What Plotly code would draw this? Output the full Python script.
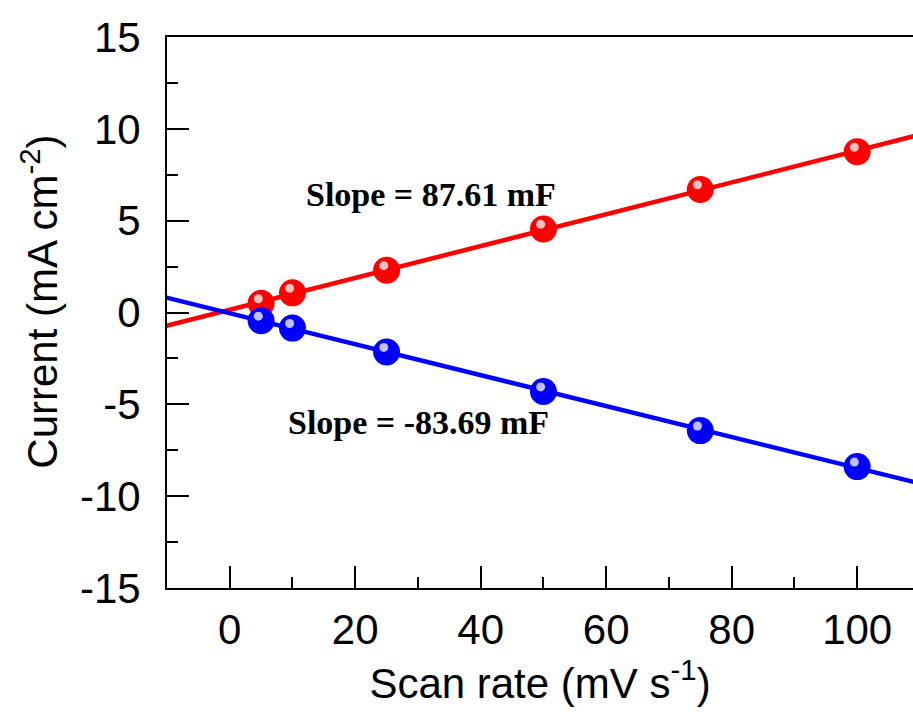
import numpy as np
import plotly.graph_objects as go

# Data
scan_rate = [5, 10, 25, 50, 75, 100]
anodic_current = [0.50, 1.07, 2.30, 4.55, 6.70, 8.75]
cathodic_current = [-0.45, -0.85, -2.15, -4.30, -6.43, -8.39]
slope_labels = ["Slope = 87.61 mF", "Slope = -83.69 mF"]
x_tick_vals = [0, 20, 40, 60, 80, 100]
x_tick_text = ["0", "20", "40", "60", "80", "100"]
y_tick_vals = [-15, -10, -5, 0, 5, 10, 15]
y_tick_text = ["-15", "-10", "-5", "0", "5", "10", "15"]

X_RANGE = [-10, 108.9]
Y_RANGE = [-15, 15]

RED = "rgb(255,0,0)"
BLUE = "rgb(0,0,255)"

fig = go.Figure()

def add_series(xs, ys, color, hl_color):
    xs = np.array(xs, dtype=float)
    ys = np.array(ys, dtype=float)
    k, b = np.polyfit(xs, ys, 1)
    xl = np.array([X_RANGE[0] - 10, X_RANGE[1] + 10])
    fig.add_trace(go.Scatter(x=xl, y=k * xl + b, mode="lines",
                             line=dict(color=color, width=4.5),
                             showlegend=False, hoverinfo="skip"))
    fig.add_trace(go.Scatter(x=xs, y=ys, mode="markers",
                             marker=dict(size=27, color=color, line=dict(width=0)),
                             showlegend=False))
    # specular highlight (small offset up-left)
    fig.add_trace(go.Scatter(x=xs - 0.45, y=ys + 0.25, mode="markers",
                             marker=dict(size=9, color=hl_color, line=dict(width=0)),
                             showlegend=False, hoverinfo="skip"))

add_series(scan_rate, anodic_current, RED, "rgba(255,225,225,0.85)")
add_series(scan_rate, cathodic_current, BLUE, "rgba(225,225,255,0.85)")

ann_font = dict(family="Liberation Serif", size=34, color="black")
fig.add_annotation(x=32.0, y=6.42, text="<b>" + slope_labels[0] + "</b>",
                   showarrow=False, font=ann_font, xanchor="center", yanchor="middle")
fig.add_annotation(x=30.1, y=-5.98, text="<b>" + slope_labels[1] + "</b>",
                   showarrow=False, font=ann_font, xanchor="center", yanchor="middle")

axis_font = dict(family="Liberation Sans", size=42, color="black")

# y-axis title placed as a rotated annotation for exact positioning
fig.add_annotation(xref="paper", yref="paper", x=-0.170, y=0.52,
                   text="Current (mA cm<sup>-2</sup>)", textangle=-90,
                   showarrow=False, font=axis_font,
                   xanchor="center", yanchor="middle")

fig.update_xaxes(
    range=X_RANGE, tickmode="array", tickvals=x_tick_vals, ticktext=x_tick_text,
    ticks="inside", ticklen=22, tickwidth=2, tickcolor="black",
    minor=dict(tickvals=[-10, 10, 30, 50, 70, 90], ticks="inside", ticklen=11,
               tickwidth=2, tickcolor="black"),
    showline=True, linewidth=2, linecolor="black", mirror=True,
    showgrid=False, zeroline=False, automargin=False,
    tickfont=axis_font, ticklabelstandoff=4,
    title=dict(text="Scan rate (mV s<sup>-1</sup>)", font=axis_font, standoff=4),
)
fig.update_yaxes(
    range=Y_RANGE, tickmode="array", tickvals=y_tick_vals, ticktext=y_tick_text,
    ticks="inside", ticklen=22, tickwidth=2, tickcolor="black",
    minor=dict(tickvals=[-12.5, -7.5, -2.5, 2.5, 7.5, 12.5], ticks="inside",
               ticklen=11, tickwidth=2, tickcolor="black"),
    showline=True, linewidth=2, linecolor="black", mirror=False,
    showgrid=False, zeroline=False, automargin=False,
    tickfont=axis_font, ticklabelstandoff=16,
)

fig.update_layout(
    width=913, height=715,
    margin=dict(l=167, r=0, t=37, b=127),
    plot_bgcolor="white", paper_bgcolor="white",
    showlegend=False,
)

# remove the default 8 px page margin so the figure fills the window exactly
fig.write_html("out.html", config={"displayModeBar": False},
               post_script="document.body.style.margin='0';document.body.style.overflow='hidden';")
